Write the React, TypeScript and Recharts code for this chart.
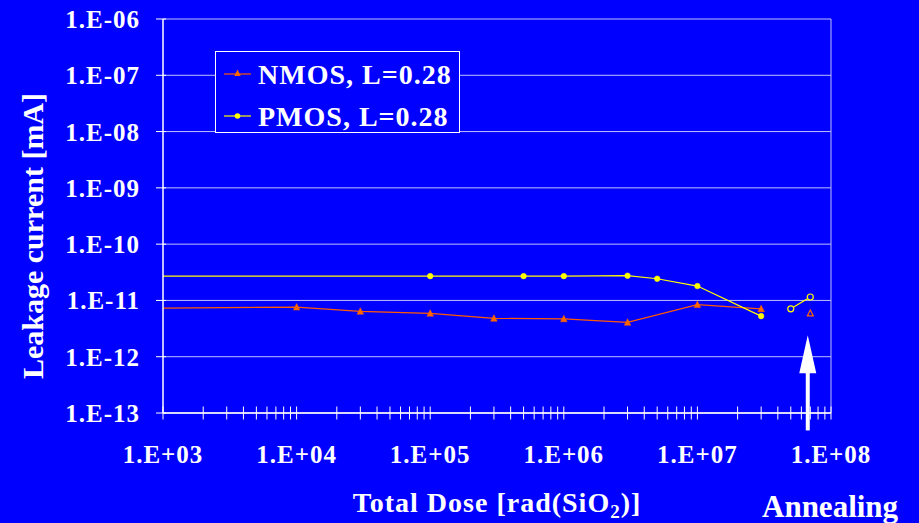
import React from 'react';
import { ComposedChart, Line, XAxis, YAxis, CartesianGrid, Legend, ReferenceLine } from 'recharts';

// ---- data ----
const nmosDose = [1e3, 1e4, 3e4, 1e5, 3e5, 1e6, 3e6, 1e7, 3e7];
const nmosLeak = [7.3e-12, 7.6e-12, 6.4e-12, 5.9e-12, 4.8e-12, 4.7e-12, 4.07e-12, 8.4e-12, 7.1e-12];
const pmosDose = [1e3, 1e5, 5e5, 1e6, 3e6, 5e6, 1e7, 3e7];
const pmosLeak = [2.7e-11, 2.7e-11, 2.7e-11, 2.7e-11, 2.75e-11, 2.43e-11, 1.8e-11, 5.26e-12];
const nmosAnnealDose = [7e7];
const nmosAnnealLeak = [5.9e-12];
const pmosAnnealDose = [5e7, 7e7];
const pmosAnnealLeak = [7.1e-12, 1.15e-11];

const xMajorTicks = [1e3, 1e4, 1e5, 1e6, 1e7, 1e8];
const xTickLabels = ['1.E+03', '1.E+04', '1.E+05', '1.E+06', '1.E+07', '1.E+08'];
const xMinorMultipliers = [2, 3, 4, 5, 6, 7, 8, 9];
const yTicks = [1e-13, 1e-12, 1e-11, 1e-10, 1e-9, 1e-8, 1e-7, 1e-6];
const yTickLabels = ['1.E-13', '1.E-12', '1.E-11', '1.E-10', '1.E-09', '1.E-08', '1.E-07', '1.E-06'];

// annotation arrow (dose position, tail and tip current)
const arrowDose = 6.7e7;
const arrowTail = 4.9e-14;
const arrowTip = 2.4e-12;

const NMOS_NAME = 'NMOS, L=0.28';
const PMOS_NAME = 'PMOS, L=0.28';

const nmosData = nmosDose.map((x, i) => ({ x, y: nmosLeak[i] }));
const pmosData = pmosDose.map((x, i) => ({ x, y: pmosLeak[i] }));
const nmosAnnealData = nmosAnnealDose.map((x, i) => ({ x, y: nmosAnnealLeak[i] }));
const pmosAnnealData = pmosAnnealDose.map((x, i) => ({ x, y: pmosAnnealLeak[i] }));

const xAllTicks: number[] = [];
xMajorTicks.forEach((d, i) => {
  xAllTicks.push(d);
  if (i < xMajorTicks.length - 1) xMinorMultipliers.forEach((m) => xAllTicks.push(d * m));
});

const BG = '#0000FF';
const FONT = '"Liberation Serif", "Times New Roman", serif';
const ORANGE_LINE = '#FF5A00';
const ORANGE = '#FF6600';
const YELLOW = '#FFFF00';
const GRID = '#C0C0FF';

const triPoints = (cx: number, cy: number, s: number) =>
  `${cx},${cy - s} ${cx - s * 0.9},${cy + s * 0.8} ${cx + s * 0.9},${cy + s * 0.8}`;

const XTick = (props: any) => {
  const { x, y, payload } = props;
  const idx = xMajorTicks.findIndex((v) => Math.abs(v - payload.value) / v < 1e-6);
  return (
    <g>
      <line x1={x} x2={x} y1={y - 6.5} y2={y + 6.5} stroke="#FFFFFF" strokeWidth={1} />
      {idx >= 0 && (
        <text x={x} y={y + 50} textAnchor="middle" fill="#FFFFFF" fontFamily={FONT} fontWeight="bold" fontSize={25} letterSpacing={1}>
          {xTickLabels[idx]}
        </text>
      )}
    </g>
  );
};

const YTick = (props: any) => {
  const { x, y, payload } = props;
  const idx = yTicks.findIndex((v) => Math.abs(v - payload.value) / v < 1e-6);
  return (
    <g>
      <line x1={x - 7} x2={x + 3} y1={y} y2={y} stroke="#FFFFFF" strokeWidth={1} />
      <text x={x - 23} y={y + 9} textAnchor="end" fill="#FFFFFF" fontFamily={FONT} fontWeight="bold" fontSize={25} letterSpacing={1}>
        {idx >= 0 ? yTickLabels[idx] : ''}
      </text>
    </g>
  );
};

const nmosDot = (props: any) => {
  const { cx, cy, index } = props;
  if (index === 0 || cx == null) return <g key={`nd${index}`} />;
  return <polygon key={`nd${index}`} points={triPoints(cx, cy, 3.6)} fill={ORANGE} stroke={ORANGE} strokeWidth={0.5} />;
};
const pmosDot = (props: any) => {
  const { cx, cy, index } = props;
  if (index === 0 || cx == null) return <g key={`pd${index}`} />;
  return <circle key={`pd${index}`} cx={cx} cy={cy} r={2.8} fill={YELLOW} stroke={YELLOW} strokeWidth={0.5} />;
};
const nmosHollowDot = (props: any) => {
  const { cx, cy, index } = props;
  if (cx == null) return <g key={`nh${index}`} />;
  return <polygon key={`nh${index}`} points={triPoints(cx, cy, 3.3)} fill={BG} stroke={ORANGE} strokeWidth={1.2} />;
};
const pmosHollowDot = (props: any) => {
  const { cx, cy, index } = props;
  if (cx == null) return <g key={`ph${index}`} />;
  return <circle key={`ph${index}`} cx={cx} cy={cy} r={3} fill={BG} stroke={YELLOW} strokeWidth={1.2} />;
};

const LegendBox = (props: any) => {
  const payload = (props.payload || []).filter((p: any) => p.type !== 'none');
  return (
    <svg width={246} height={83} style={{ display: 'block' }}>
      <rect x={0.5} y={0.5} width={244} height={81} fill={BG} stroke="#FFFFFF" strokeWidth={1} />
      {payload.map((p: any, i: number) => {
        const cy = 23 + i * 42;
        const isN = p.value === NMOS_NAME;
        return (
          <g key={p.value}>
            <line x1={9} x2={36} y1={cy} y2={cy} stroke={isN ? ORANGE_LINE : YELLOW} strokeWidth={1.2} />
            {isN ? (
              <polygon points={triPoints(22.5, cy - 1, 3.6)} fill={ORANGE} />
            ) : (
              <circle cx={22.5} cy={cy} r={2.8} fill={YELLOW} />
            )}
            <text x={43} y={cy + 10} fill="#FFFFFF" fontFamily={FONT} fontWeight="bold" fontSize={28} letterSpacing={1}>
              {p.value}
            </text>
          </g>
        );
      })}
    </svg>
  );
};

const ArrowShape = (props: any) => {
  const { x1, y1, x2, y2 } = props;
  if (x1 == null) return <g />;
  const top = Math.min(y1, y2);
  const bottom = Math.max(y1, y2);
  const headLen = 38;
  const half = 8.5;
  return (
    <g>
      <line x1={x1} x2={x1} y1={bottom} y2={top + headLen - 2} stroke="#FFFFFF" strokeWidth={4} />
      <polygon points={`${x1},${top} ${x1 - half},${top + headLen} ${x1 + half},${top + headLen}`} fill="#FFFFFF" />
    </g>
  );
};

export default function App() {
  return (
    <div style={{ position: 'absolute', left: 0, top: 0, width: 919, height: 523, background: BG, overflow: 'hidden' }}>
      <ComposedChart width={919} height={523} margin={{ top: 19, right: 88, bottom: 50, left: 0 }}>
        <CartesianGrid vertical={false} stroke={GRID} strokeWidth={1} />
        <XAxis
          dataKey="x"
          type="number"
          scale="log"
          domain={[1e3, 1e8]}
          allowDataOverflow
          ticks={xAllTicks}
          interval={0}
          tickSize={0}
          tickMargin={0}
          tickLine={false}
          tick={<XTick />}
          axisLine={{ stroke: '#FFFFFF', strokeWidth: 1.5 }}
          height={60}
        />
        <YAxis
          type="number"
          scale="log"
          domain={[1e-13, 1e-6]}
          allowDataOverflow
          ticks={yTicks}
          interval={0}
          tickSize={0}
          tickMargin={0}
          tickLine={false}
          tick={<YTick />}
          axisLine={{ stroke: '#FFFFFF', strokeWidth: 1.5 }}
          width={163}
        />
        <ReferenceLine x={1e8} stroke={GRID} strokeWidth={1} />
        <Line
          data={nmosData}
          dataKey="y"
          name={NMOS_NAME}
          stroke={ORANGE_LINE}
          strokeWidth={1.2}
          dot={nmosDot}
          activeDot={false}
          isAnimationActive={false}
        />
        <Line
          data={pmosData}
          dataKey="y"
          name={PMOS_NAME}
          stroke={YELLOW}
          strokeWidth={1.2}
          dot={pmosDot}
          activeDot={false}
          isAnimationActive={false}
        />
        <Line
          data={nmosAnnealData}
          dataKey="y"
          name="NMOS annealing"
          legendType="none"
          stroke="none"
          dot={nmosHollowDot}
          activeDot={false}
          isAnimationActive={false}
        />
        <Line
          data={pmosAnnealData}
          dataKey="y"
          name="PMOS annealing"
          legendType="none"
          stroke={YELLOW}
          strokeWidth={1.2}
          dot={pmosHollowDot}
          activeDot={false}
          isAnimationActive={false}
        />
        <ReferenceLine
          segment={[{ x: arrowDose, y: arrowTail }, { x: arrowDose, y: arrowTip }]}
          ifOverflow="visible"
          stroke="#FFFFFF"
          shape={ArrowShape}
        />
        <Legend
          layout="vertical"
          align="center"
          verticalAlign="middle"
          content={LegendBox}
          wrapperStyle={{ left: 215, top: 51, width: 246, height: 83 }}
        />
      </ComposedChart>
      <svg width={919} height={523} style={{ position: 'absolute', left: 0, top: 0, pointerEvents: 'none' }}>
        <text transform="translate(43,236) rotate(-90)" textAnchor="middle" fill="#FFFFFF" fontFamily={FONT} fontWeight="bold" fontSize={30}>
          Leakage current [mA]
        </text>
        <text x={497} y={512} textAnchor="middle" fill="#FFFFFF" fontFamily={FONT} fontWeight="bold" fontSize={28} letterSpacing={1}>
          Total Dose [rad(SiO<tspan fontSize={19} dy={6}>2</tspan><tspan dy={-6}>)]</tspan>
        </text>
        <text x={762} y={517} fill="#FFFFFF" fontFamily={FONT} fontWeight="bold" fontSize={31}>
          Annealing
        </text>
      </svg>
    </div>
  );
}
